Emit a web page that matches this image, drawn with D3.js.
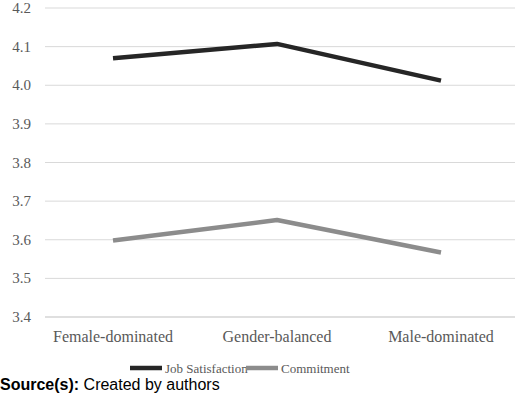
<!DOCTYPE html>
<html><head><meta charset="utf-8">
<script src="https://cdn.jsdelivr.net/npm/d3@7"></script>
<style>body{margin:0;background:#fff}svg{display:block;font-family:"Liberation Serif","Times New Roman",serif}</style>
</head><body><svg id="chart" width="520" height="404"></svg>
<script>
const categories = ["Female-dominated", "Gender-balanced", "Male-dominated"];
const jobSatisfaction = [4.07, 4.107, 4.012];
const commitment = [3.598, 3.651, 3.567];
const yTicks = [3.4, 3.5, 3.6, 3.7, 3.8, 3.9, 4.0, 4.1, 4.2];

const svg = d3.select("#chart");
const x = d3.scalePoint().domain(categories).range([113, 441]);
const y = d3.scaleLinear().domain([3.4, 4.2]).range([317, 8]);

// gridlines
svg.append("g").selectAll("line").data(yTicks).join("line")
  .attr("x1", 45).attr("x2", 515)
  .attr("y1", d => y(d)).attr("y2", d => y(d))
  .attr("stroke", d => d === 3.4 ? "#bfbfbf" : "#d9d9d9").attr("stroke-width", 1);

svg.append("g").selectAll("text").data(yTicks).join("text")
  .attr("x", 31).attr("y", d => y(d) + 5)
  .attr("text-anchor", "end").attr("font-size", 15).attr("fill", "#595959")
  .text(d => d.toFixed(1));

svg.append("g").selectAll("text").data(categories).join("text")
  .attr("x", d => x(d)).attr("y", 342)
  .attr("text-anchor", "middle").attr("font-size", 16).attr("fill", "#595959")
  .text(d => d);

const line = d3.line().x((d, i) => x(categories[i])).y(d => y(d));
const series = [
  { name: "Job Satisfaction", values: jobSatisfaction, color: "#262626" },
  { name: "Commitment", values: commitment, color: "#8c8c8c" }
];
svg.append("g").selectAll("path").data(series).join("path")
  .attr("d", d => line(d.values)).attr("fill", "none")
  .attr("stroke", d => d.color).attr("stroke-width", 4.5).attr("stroke-linejoin", "round");

// legend
const lg = svg.append("g").selectAll("g").data(series).join("g")
  .attr("transform", (d, i) => `translate(${[130, 246][i]},368)`);
lg.append("line").attr("x1", 0).attr("x2", 32).attr("stroke", d => d.color).attr("stroke-width", 4.5);
lg.append("text").attr("x", 35).attr("y", 4.5).attr("font-size", 13).attr("fill", "#595959").text(d => d.name);

const src = svg.append("text").attr("x", 0).attr("y", 390).attr("font-size", 16).attr("fill", "#000")
  .style("font-family", "'Liberation Sans', Arial, sans-serif");
src.append("tspan").attr("font-weight", "bold").text("Source(s):");
src.append("tspan").text(" Created by authors");
</script></body></html>
